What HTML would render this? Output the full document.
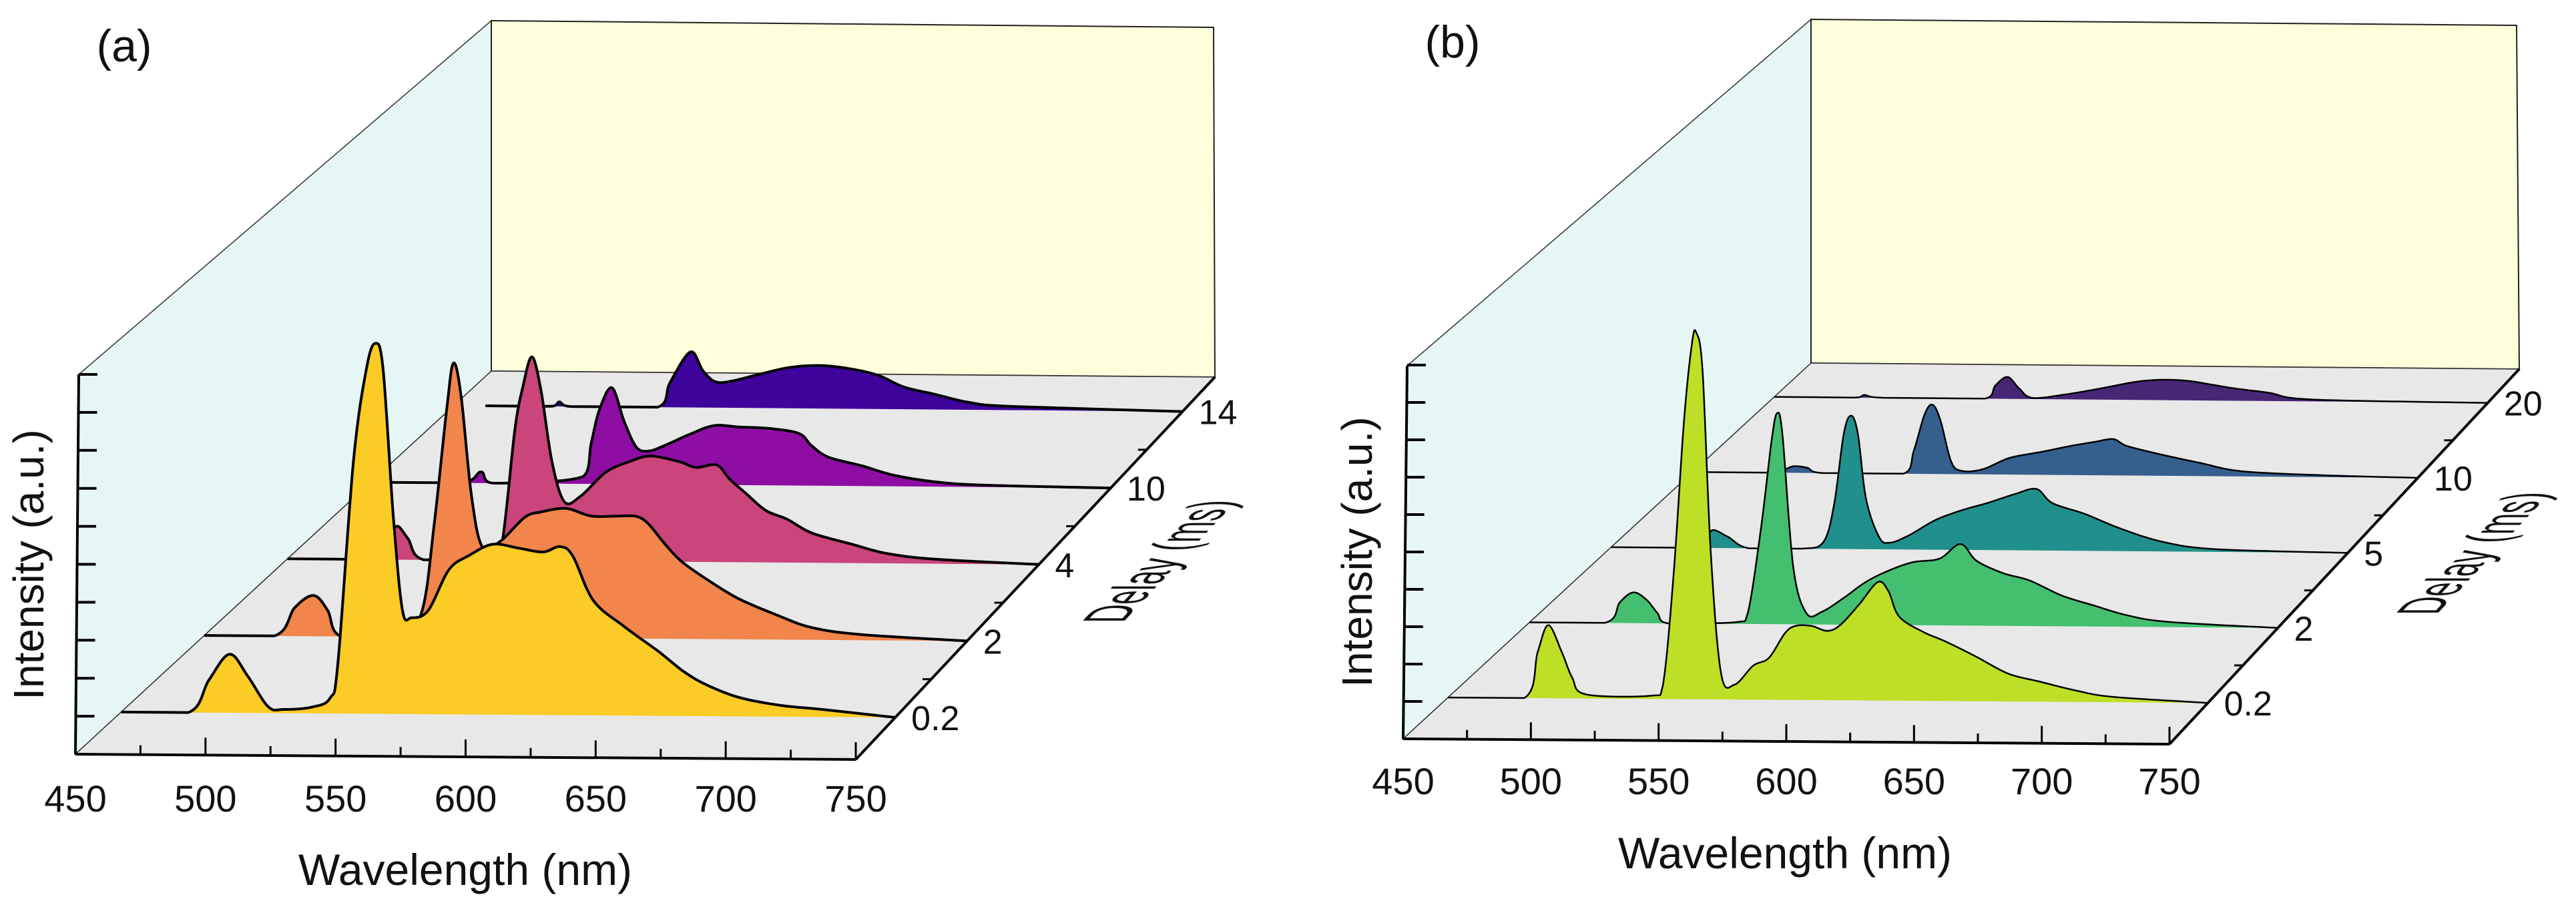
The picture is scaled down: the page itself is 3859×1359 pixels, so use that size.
<!DOCTYPE html>
<html><head><meta charset="utf-8">
<style>
html,body{margin:0;padding:0;background:#fff;}
svg{display:block;}
text{font-family:"Liberation Sans",Arial,sans-serif;fill:#111;}
</style></head>
<body>
<svg id="fig" width="3859" height="1359" viewBox="0 0 3859 1359" xmlns="http://www.w3.org/2000/svg"></svg>
<script>
// ---- shared axis data ----
const wavelengthTicks = [450, 500, 550, 600, 650, 700, 750];
const delayLabelsA = ['0.2', '2', '4', '10', '14'];
const delayLabelsB = ['0.2', '2', '5', '10', '20'];

// ---- panel (a) spectra ----
const wlA0 = [450,476,484,492,499,507,513,524,531,534,540,545,548.5,551.5,555.5,559,562.5,569,577,585,594,604,613.5,620,625,633,645,658,668,677,690,706,722,750];
const intA0 = [0,0,0.088,0.158,0.10,0.017,0.01,0.017,0.042,0.136,0.68,0.93,1.0,0.93,0.53,0.28,0.26,0.28,0.39,0.43,0.46,0.45,0.44,0.455,0.43,0.31,0.24,0.175,0.12,0.084,0.05,0.03,0.02,0];
const wlA1 = [450,477.5,485.6,493,498.5,504,527.6,535.7,540.5,545.4,548,551,555,559.3,566.4,576,582.6,592.3,602,611.7,619.7,624.6,631,637.5,647,660,676,689,708.6,750];
const intA1 = [0,0,0.077,0.11,0.07,0,0.01,0.072,0.31,0.62,0.74,0.65,0.385,0.245,0.26,0.325,0.34,0.35,0.33,0.33,0.33,0.31,0.257,0.21,0.164,0.11,0.064,0.033,0.015,0];
const wlA2 = [450,488,493,498,504.4,531,535.7,540.7,544,547.6,551.2,555.5,560.5,567,577,586.8,595,606.6,613,621.4,626.4,633,641,649.5,659.4,675.8,689,708.8,750];
const intA2 = [0,0,0.088,0.058,0,0,0.05,0.35,0.47,0.55,0.46,0.27,0.16,0.175,0.24,0.27,0.285,0.27,0.255,0.262,0.225,0.186,0.14,0.117,0.08,0.05,0.027,0.012,0];
const wlA3 = [456.6,487,494.7,499.6,536.2,539.4,542.7,547.8,552.7,557.7,562.7,569.1,579.3,589.2,599.2,612.4,623.8,628.7,635.6,648.9,662,678.7,698.7,750];
const intA3 = [0,0,0.03,0,0.02,0.11,0.2,0.26,0.17,0.10,0.09,0.105,0.136,0.16,0.157,0.153,0.14,0.108,0.077,0.055,0.03,0.013,0.005,0];
const wlA4 = [463,490,493.4,498,533.8,539,547.4,552.5,557.6,564.3,574.5,588,601.5,615,625.1,635.3,648.7,662,679.4,750];
const intA4 = [0,0,0.012,0,0,0.067,0.15,0.10,0.07,0.072,0.089,0.11,0.116,0.106,0.09,0.06,0.04,0.02,0.01,0];

// ---- panel (b) spectra ----
const wlB0 = [450,480.1,485.4,489.6,494.9,499,504.4,530.6,534.8,539,543.1,546.3,548,550.5,553.7,557.8,563.1,570.5,576.7,583,587.2,593.5,599.8,605,612.4,619.7,623.9,628.1,637.6,646,658.6,671.2,683.7,698.4,713.1,750];
const intB0 = [0,0,0.124,0.197,0.125,0.056,0.011,0.009,0.036,0.33,0.746,0.96,0.99,0.885,0.40,0.07,0.04,0.092,0.113,0.18,0.20,0.20,0.187,0.204,0.26,0.32,0.295,0.227,0.186,0.162,0.12,0.075,0.054,0.03,0.014,0];
const wlB1 = [450,480,486.2,491.6,496.9,501.2,505.5,533.2,537.5,542.8,547.1,549.3,551.4,555.7,561,567.4,575.9,584.4,593,603.6,614.3,622.8,629.2,639.9,650.5,663.3,676.1,688.9,706,750];
const intB1 = [0,0,0.056,0.083,0.063,0.028,0,0.005,0.03,0.26,0.50,0.57,0.51,0.155,0.03,0.035,0.072,0.114,0.144,0.17,0.18,0.22,0.175,0.142,0.123,0.083,0.057,0.032,0.014,0];
const wlB2 = [450,487.6,490.9,497.4,506.1,527.8,536.4,540.8,544.7,547.7,550.5,553.8,559.2,563.6,571.2,582,592.8,603.7,614.5,623.2,629.7,642.7,657.8,675.2,696.8,750];
const intB2 = [0,0,0.047,0.031,0,0,0.018,0.12,0.31,0.36,0.31,0.135,0.032,0.018,0.038,0.08,0.107,0.128,0.152,0.166,0.128,0.10,0.06,0.025,0.007,0];
const wlB3 = [455,485,488.6,491.9,497.4,504,537.1,541.5,545.9,549.2,552.5,556.9,561.3,570.1,581.1,594.3,607.5,616.3,624,629.5,642,659.6,677.2,710,750];
const intB3 = [0,0,0.01,0.018,0.014,0,0,0.063,0.16,0.187,0.145,0.034,0.009,0.014,0.045,0.062,0.08,0.09,0.098,0.08,0.06,0.036,0.014,0.005,0];
const wlB4 = [450,484,488,495.8,538.5,543,548.1,553,558.6,573.2,588.8,602.2,613.4,624.7,642.6,658.2,676.1,750];
const intB4 = [0,0,0.007,0,0,0.036,0.059,0.028,0.003,0.014,0.032,0.049,0.055,0.052,0.034,0.022,0.005,0];

const wlSetsA = [wlA0, wlA1, wlA2, wlA3, wlA4];
const intSetsA = [intA0, intA1, intA2, intA3, intA4];
const wlSetsB = [wlB0, wlB1, wlB2, wlB3, wlB4];
const intSetsB = [intB0, intB1, intB2, intB3, intB4];

const NS = 'http://www.w3.org/2000/svg';
const svg = document.getElementById('fig');

function mk(parent, tag, attrs) {
  const e = document.createElementNS(NS, tag);
  for (const k in attrs) e.setAttribute(k, attrs[k]);
  parent.appendChild(e);
  return e;
}

// smooth path through projected points (Catmull-Rom, clamped to baseline)
function smoothPath(pts, baseY) {
  let d = 'M' + pts[0][0].toFixed(1) + ',' + pts[0][1].toFixed(1);
  for (let i = 0; i < pts.length - 1; i++) {
    const p0 = pts[Math.max(0, i - 1)], p1 = pts[i], p2 = pts[i + 1], p3 = pts[Math.min(pts.length - 1, i + 2)];
    const t = 1 / 6;
    let c1x = p1[0] + (p2[0] - p0[0]) * t, c1y = p1[1] + (p2[1] - p0[1]) * t;
    let c2x = p2[0] - (p3[0] - p1[0]) * t, c2y = p2[1] - (p3[1] - p1[1]) * t;
    c1x = Math.min(Math.max(c1x, p1[0]), p2[0]);
    c2x = Math.min(Math.max(c2x, p1[0]), p2[0]);
    c1y = Math.min(c1y, baseY(c1x));
    c2y = Math.min(c2y, baseY(c2x));
    d += ' C' + c1x.toFixed(1) + ',' + c1y.toFixed(1) + ' ' + c2x.toFixed(1) + ',' + c2y.toFixed(1) + ' ' + p2[0].toFixed(1) + ',' + p2[1].toFixed(1);
  }
  return d;
}

function drawPanel(P) {
  const g = mk(svg, 'g', {});
  
  
  const wlMin = wavelengthTicks[0], wlMax = wavelengthTicks[wavelengthTicks.length - 1];
  const n = P.labels.length;
  const depth = i => 0.11 + 0.2 * i * (4 / Math.max(1, n - 1));
  function proj(wl, v, h) {
    const u = (wl - wlMin) / (wlMax - wlMin);
    const x = (1-u)*(1-v)*P.FL[0] + u*(1-v)*P.FR[0] + (1-u)*v*P.BL[0] + u*v*P.BR[0];
    const y = (1-u)*(1-v)*P.FL[1] + u*(1-v)*P.FR[1] + (1-u)*v*P.BL[1] + u*v*P.BR[1];
    return [x, y - h * P.hs];
  }
  const pt = p => p[0].toFixed(1) + ',' + p[1].toFixed(1);

  const lw = mk(g, 'polygon', {points: [P.FL, P.axisTop, P.wallTL, P.BL].map(pt).join(' '), fill: '#e5f6f5', stroke: '#333', 'stroke-width': 1.5});
  
  
  const bw = mk(g, 'polygon', {points: [P.wallTL, P.wallTR, P.BR, P.BL].map(pt).join(' '), fill: '#ffffdb', stroke: '#222', 'stroke-width': 2});
  
  
  const fl = mk(g, 'polygon', {points: [P.FL, P.FR, P.BR, P.BL].map(pt).join(' '), fill: '#e8e8e8', stroke: '#333', 'stroke-width': 1.5});
  
  

  for (let i = n - 1; i >= 0; i--) {
    const v = depth(i);
    const wl = P.wl[i], it = P.int[i];
    const curve = wl.map((w, k) => proj(w, v, it[k]));
    const b0 = proj(wl[0], v, 0), b1 = proj(wl[wl.length-1], v, 0);
    const baseY = x => b0[1] + (b1[1] - b0[1]) * (x - b0[0]) / (b1[0] - b0[0]);
    const d = smoothPath(curve, baseY);
    const fillPath = mk(g, 'path', {d: d + ' L' + pt(b1) + ' L' + pt(b0) + ' Z', fill: P.colors[i], stroke: 'none'});
    
    
    const line = mk(g, 'path', {d: d, fill: 'none', stroke: '#000', 'stroke-width': P.lw, 'stroke-linejoin': 'round'});
    
    
  }

  const fa = mk(g, 'line', {x1: P.FL[0], y1: P.FL[1], x2: P.FR[0], y2: P.FR[1], stroke: '#000', 'stroke-width': 4});
  
  
  for (let w = wlMin; w <= wlMax; w += 25) {
    const p = proj(w, 0, 0);
    const major = (w % 50 === 0);
    const t = mk(g, 'line', {x1: p[0], y1: p[1], x2: p[0], y2: p[1] - (major ? 26 : 14), stroke: '#000', 'stroke-width': 3});
    
    
  }
  wavelengthTicks.forEach(w => {
    const p = proj(w, 0, 0);
    const t = mk(g, 'text', {x: p[0], y: P.tickLabelY, 'font-size': 56, 'text-anchor': 'middle'});
    t.textContent = w;
    
    
  });

  const ia = mk(g, 'line', {x1: P.FL[0], y1: P.FL[1], x2: P.axisTop[0], y2: P.axisTop[1], stroke: '#000', 'stroke-width': 4});
  
  
  for (let k = 1; k <= 10; k++) {
    const y = P.FL[1] - k * P.tickGap;
    if (y < P.axisTop[1] - 2) break;
    const x = P.FL[0] + (P.axisTop[0] - P.FL[0]) * (P.FL[1] - y) / (P.FL[1] - P.axisTop[1]);
    const t = mk(g, 'line', {x1: x, y1: y, x2: x + 28, y2: y, stroke: '#000', 'stroke-width': 4});
    
    
  }

  const da = mk(g, 'line', {x1: P.FR[0], y1: P.FR[1], x2: P.BR[0], y2: P.BR[1], stroke: '#000', 'stroke-width': 4});
  
  
  for (let i = 0; i < n; i++) {
    const p = proj(wlMax, depth(i), 0);
    const t = mk(g, 'text', {x: p[0] + 24, y: p[1] + 2, 'font-size': 52, 'dominant-baseline': 'central'});
    t.textContent = P.labels[i];
    
    
    if (i < n - 1) {
      const q = proj(wlMax, (depth(i) + depth(i + 1)) / 2, 0);
      const m = mk(g, 'line', {x1: q[0], y1: q[1], x2: q[0] - 13, y2: q[1], stroke: '#000', 'stroke-width': 3});
      
      
    }
  }

  const wt = mk(g, 'text', {x: P.wlTitle[0], y: P.wlTitle[1], 'font-size': 66, 'text-anchor': 'middle'});
  wt.textContent = 'Wavelength (nm)';
  
  
  const it = mk(g, 'text', {x: 0, y: 0, 'font-size': 64, 'text-anchor': 'middle', 'dominant-baseline': 'central', transform: 'translate(' + P.intTitle[0] + ',' + P.intTitle[1] + ') rotate(-90)'});
  it.textContent = 'Intensity (a.u.)';
  
  
  const dt = mk(g, 'text', {x: 0, y: 0, 'font-size': 52, transform: 'matrix(0.68,-0.73,1.75,0,' + P.delayTitle[0] + ',' + P.delayTitle[1] + ')'});
  dt.textContent = 'Delay (ms)';
  
  
  const pl = mk(g, 'text', {x: P.tag[0], y: P.tag[1], 'font-size': 68, 'text-anchor': 'middle'});
  pl.textContent = P.tagText;
  
  
}

drawPanel({
  name: 'panel-a', tagText: '(a)', tag: [186, 92],
  FL: [113, 1130], FR: [1282, 1138], BL: [736, 556], BR: [1820, 565],
  axisTop: [118, 561], wallTL: [736, 31], wallTR: [1818, 41],
  hs: 555, lw: 4, tickGap: 56.9, tickLabelY: 1216,
  wl: wlSetsA, int: intSetsA, labels: delayLabelsA,
  colors: ['#fbcb26', '#f1854c', '#c9457a', '#8e0ea4', '#3e049c'],
  wlTitle: [697, 1326], intTitle: [43, 846], delayTitle: [1682, 933]
});
drawPanel({
  name: 'panel-b', tagText: '(b)', tag: [2176, 86],
  FL: [2102, 1107], FR: [3250, 1115], BL: [2713, 544], BR: [3774, 553],
  axisTop: [2108, 548], wallTL: [2713, 29], wallTR: [3770, 38],
  hs: 555, lw: 2.5, tickGap: 56, tickLabelY: 1190,
  wl: wlSetsB, int: intSetsB, labels: delayLabelsB,
  colors: ['#bddf26', '#44bf70', '#21908c', '#355f8d', '#472676'],
  wlTitle: [2674, 1301], intTitle: [2033, 827], delayTitle: [3650, 921]
});
</script>
</body></html>
